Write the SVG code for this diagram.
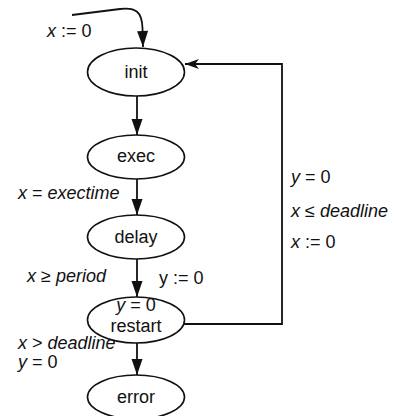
<svg xmlns="http://www.w3.org/2000/svg" width="394" height="416" viewBox="0 0 394 416">
<style>
text{font-family:"Liberation Sans",Arial,sans-serif;font-size:18px;fill:#111}
.c{text-anchor:middle}
.i{font-style:italic}
ellipse{fill:#fff;stroke:#111;stroke-width:1.6}
.e{fill:none;stroke:#111;stroke-width:1.8}
</style>
<defs>
<marker id="ah" markerUnits="userSpaceOnUse" markerWidth="20" markerHeight="14" viewBox="-17 -7 18 14" refX="0" refY="0" orient="auto">
<path d="M0,0 L-16,-5.5 L-16,5.5 Z" fill="#111"/>
</marker>
<marker id="ab" markerUnits="userSpaceOnUse" markerWidth="20" markerHeight="14" viewBox="-17 -7 18 14" refX="0" refY="0" orient="auto">
<path d="M0,0 L-14,-5 L-10,0 L-14,5 Z" fill="#111"/>
</marker>
</defs>
<g id="connectors">
<path class="e" d="M72,15 L120,9 C136,7 142,12 142.5,28 L143,47" marker-end="url(#ah)"/>
<path class="e" d="M137,96 L137,135" marker-end="url(#ah)"/>
<path class="e" d="M137,179 L137,215" marker-end="url(#ah)"/>
<path class="e" d="M137,259 L137,297" marker-end="url(#ah)"/>
<path class="e" d="M137,343 L137,375" marker-end="url(#ah)"/>
<path class="e" d="M183,324 L282,324 L282,64 L185,64" marker-end="url(#ab)"/>
<text x="47" y="37"><tspan class="i">x</tspan> := 0</text>
<text x="18" y="199"><tspan class="i">x</tspan> = <tspan class="i">exectime</tspan></text>
<text x="27" y="282"><tspan class="i">x</tspan> ≥ <tspan class="i">period</tspan></text>
<text x="159" y="284">y := 0</text>
<text x="18" y="349"><tspan class="i">x</tspan> &gt; <tspan class="i">deadline</tspan></text>
<text x="18" y="368"><tspan class="i">y</tspan> = 0</text>
<text x="291" y="183"><tspan class="i">y</tspan> = 0</text>
<text x="291" y="217"><tspan class="i">x</tspan> ≤ <tspan class="i">deadline</tspan></text>
<text x="291" y="248"><tspan class="i">x</tspan> := 0</text>
</g>
<g id="init">
<ellipse cx="136" cy="72" rx="48.5" ry="24"/>
<text class="c" x="136" y="78">init</text>
</g>
<g id="exec">
<ellipse cx="136" cy="157" rx="48.5" ry="22"/>
<text class="c" x="136" y="162">exec</text>
</g>
<g id="delay">
<ellipse cx="136" cy="237" rx="48.5" ry="22"/>
<text class="c" x="136" y="243">delay</text>
</g>
<g id="restart">
<ellipse cx="136" cy="320" rx="48.5" ry="23"/>
<text class="c" x="136" y="311"><tspan class="i">y</tspan> = 0</text>
<text class="c" x="136" y="332">restart</text>
</g>
<g id="error">
<ellipse cx="136" cy="397" rx="48.5" ry="22"/>
<text class="c" x="136" y="403">error</text>
</g>
</svg>
